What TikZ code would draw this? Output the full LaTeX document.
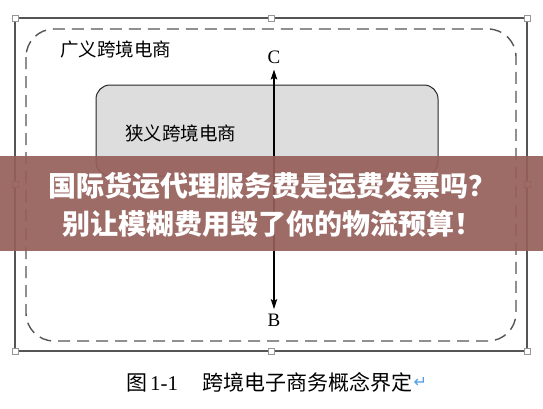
\documentclass[tikz,border=0pt]{standalone}
\usepackage{fontspec}
\setmainfont{Liberation Serif}
\newfontfamily\cjk{Noto Sans CJK SC}
\newfontfamily\symfont{DejaVu Sans}
\usepackage{tikz}
\usetikzlibrary{positioning,arrows.meta}
\definecolor{framegray}{RGB}{85,85,85}
\definecolor{handlegray}{RGB}{150,150,150}
\definecolor{boxgray}{RGB}{221,221,221}
\definecolor{bannerred}{RGB}{150,95,90}
\definecolor{markblue}{RGB}{80,155,230}

\begin{document}
\begin{tikzpicture}[x=1pt,y=-1pt,
    handle/.style={draw=handlegray,fill=white,line width=0.7pt,minimum size=6pt,inner sep=0pt},
    region/.style={font=\cjk\fontsize{18.5}{18.5}\selectfont,inner sep=0pt,anchor=west},
    axislabel/.style={font=\fontsize{19}{19}\selectfont,inner sep=0pt}]
    \useasboundingbox (0,0) rectangle (543,408);
    % picture frame and its handles
    \draw[framegray,line width=1.5pt] (15,18) rectangle (527,351);
    \foreach \hx/\hy in {15/18,271/18,527/18,15/184,527/184,15/351,271/351,527/351}
        \node[handle] at (\hx,\hy) {};
    % broad region (dashed)
    \draw[framegray,line width=1.4pt,dash pattern=on 12pt off 7pt,rounded corners=28pt] (26,29) rectangle (516,341);
    \node[region] (broad) at (60,50) {广义跨境电商};
    % narrow region (gray box)
    \draw[fill=boxgray,draw=black!85,line width=1pt,rounded corners=14pt] (96,85) rectangle (438,176);
    \node[region] (narrow) at (125,133) {狭义跨境电商};
    % the C--B axis
    \node[axislabel] (C) at (274,57) {C};
    \node[axislabel] (B) at (274,320.5) {B};
    \draw[{Stealth[length=10pt,width=6.5pt,inset=2pt]}-{Stealth[length=10pt,width=6.5pt,inset=2pt]},line width=1.1pt,shorten <=6pt,shorten >=5pt] (C.south) -- (B.north);
    % banner across the picture
    \fill[bannerred,opacity=0.92] (0,156) rectangle (543,251);
    \node[font=\cjk\bfseries\fontsize{28}{38}\selectfont,text=white,align=center,inner sep=0pt] (headline) at (272,205)
        {国际货运代理服务费是运费发票吗？\\别让模糊费用毁了你的物流预算！};
    % caption
    \node[anchor=west,inner sep=0pt,font=\fontsize{21}{21}\selectfont] (caption) at (126,382)
        {{\cjk 图}\hspace{3pt}1-1\hspace{24pt}{\cjk 跨境电子商务概念界定}};
    \node[right=1pt of caption,inner sep=0pt,text=markblue,font=\symfont\fontsize{16}{16}\selectfont] (mark) {↵};
\end{tikzpicture}
\end{document}
